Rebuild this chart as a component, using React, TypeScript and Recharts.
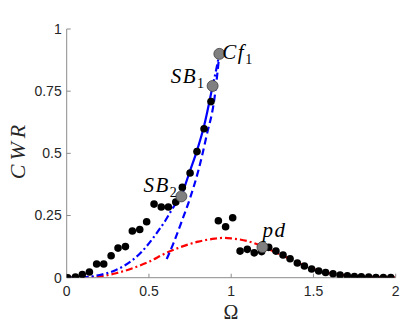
import React from 'react';
import { ComposedChart, Line, Scatter, XAxis, YAxis } from 'recharts';

// measured points (black dots)
const expOmega = [0.006, 0.053, 0.095, 0.138, 0.182, 0.225, 0.27, 0.312, 0.357, 0.399, 0.444, 0.486, 0.531, 0.575, 0.618, 0.663, 0.703, 0.75, 0.792, 0.835, 0.877, 0.922, 0.966, 1.009, 1.054, 1.098, 1.14, 1.185, 1.228, 1.272, 1.315, 1.358, 1.402, 1.445, 1.489, 1.532, 1.574, 1.619, 1.662, 1.706, 1.749, 1.791, 1.836, 1.88, 1.925, 1.97];
const expCwr = [0, 0.003, 0.013, 0.023, 0.055, 0.055, 0.088, 0.119, 0.125, 0.188, 0.194, 0.225, 0.296, 0.284, 0.284, 0.304, 0.363, 0.421, 0.507, 0.599, 0.708, 0.229, 0.205, 0.241, 0.107, 0.114, 0.1, 0.105, 0.122, 0.107, 0.091, 0.076, 0.059, 0.047, 0.035, 0.027, 0.021, 0.016, 0.011, 0.008, 0.005, 0.004, 0.003, 0.001, 0.001, 0.001];

// blue branch, lower part (dash-dot)
const lowOmega = [0, 0.1, 0.2, 0.3, 0.4, 0.45, 0.5, 0.55, 0.6, 0.65, 0.697];
const lowCwr = [0, 0.002, 0.011, 0.031, 0.071, 0.1, 0.138, 0.182, 0.23, 0.285, 0.327];

// blue branch, solid part
const midOmega = [0.697, 0.75, 0.79, 0.835, 0.887];
const midCwr = [0.327, 0.43, 0.507, 0.61, 0.771];

// blue branch, top part (dash-dot)
const topOmega = [0.887, 0.91, 0.928];
const topCwr = [0.771, 0.84, 0.9];

// blue unstable branch (dashed)
const unstOmega = [0.608, 0.65, 0.7, 0.75, 0.8, 0.85, 0.9, 0.928];
const unstCwr = [0.075, 0.14, 0.228, 0.32, 0.43, 0.57, 0.73, 0.9];

// red curve (dash-dot)
const redOmega = [0, 0.1, 0.2, 0.3, 0.4, 0.5, 0.6, 0.7, 0.8, 0.9, 0.95, 1.0, 1.1, 1.2, 1.3, 1.4, 1.5, 1.6, 1.7, 1.8, 1.9, 2.0];
const redCwr = [0, 0.001, 0.005, 0.018, 0.038, 0.064, 0.098, 0.125, 0.145, 0.157, 0.16, 0.158, 0.147, 0.123, 0.093, 0.062, 0.035, 0.018, 0.009, 0.004, 0.002, 0.001];

// special points
const markNames = ['Cf', 'SB', 'SB', 'pd'];
const markSubs = ['1', '1', '2', ''];
const markOmega = [0.928, 0.887, 0.697, 1.19];
const markCwr = [0.9, 0.771, 0.327, 0.123];

const xTicks = [0, 0.5, 1, 1.5, 2];
const yTicks = [0, 0.25, 0.5, 0.75, 1];

const toPoints = (xs: number[], ys: number[]) => xs.map((x, i) => ({ x, y: ys[i] }));

const mathFont = '"Liberation Serif", "Times New Roman", serif';
const tickStyle = { fill: '#262626', fontSize: 14, fontFamily: '"Liberation Sans", Arial, sans-serif' };
const axisColor = '#8c8c8c';

// where each label sits relative to its marker
const labelPos = [
  { dx: 3, dy: 5, anchor: 'start' },
  { dx: -7, dy: -3, anchor: 'end' },
  { dx: -3, dy: -4, anchor: 'end' },
  { dx: 0, dy: -10, anchor: 'start' },
];

const MarkShape = (props: any) => {
  const { cx, cy, payload } = props;
  const p = labelPos[payload.i];
  return (
    <g>
      <circle cx={cx} cy={cy} r={5.5} fill="#808080" stroke="#404040" strokeWidth={0.8} />
      <text
        x={cx + p.dx}
        y={cy + p.dy}
        textAnchor={p.anchor}
        fontFamily={mathFont}
        fontStyle="italic"
        fontSize={21}
        letterSpacing={1.5}
        fill="#000"
      >
        {payload.name}
        {payload.sub && (
          <tspan fontStyle="normal" fontSize={14} dy={5}>
            {payload.sub}
          </tspan>
        )}
      </text>
    </g>
  );
};

const Dot = (props: any) => <circle cx={props.cx} cy={props.cy} r={3.8} fill="#000" />;

export default function App() {
  const marks = markNames.map((name, i) => ({ x: markOmega[i], y: markCwr[i], name, sub: markSubs[i], i }));
  const dashDot = '7 3 2 3';
  return (
    <div style={{ position: 'absolute', left: 0, top: 0, background: '#fff' }}>
      <ComposedChart width={415} height={323} margin={{ top: 29, right: 19.3, bottom: 15.3, left: 16.7 }}>
        <XAxis
          xAxisId="b"
          dataKey="x"
          type="number"
          domain={[0, 2]}
          ticks={xTicks}
          allowDataOverflow
          height={30}
          tickSize={-4}
          tickMargin={12}
          stroke={axisColor}
          tick={tickStyle}
          label={{
            content: () => (
              <text x={231} y={319} textAnchor="middle" fontFamily={mathFont} fontSize={20} fill="#262626">
                Ω
              </text>
            ),
          }}
        />
        <XAxis
          xAxisId="t"
          orientation="top"
          type="number"
          domain={[0, 2]}
          ticks={xTicks}
          allowDataOverflow
          height={0}
          tickSize={-4}
          stroke={axisColor}
          tickFormatter={() => ''}
        />
        <YAxis
          yAxisId="l"
          type="number"
          domain={[0, 1]}
          ticks={yTicks}
          allowDataOverflow
          width={50}
          tickSize={-4}
          tickMargin={9}
          stroke={axisColor}
          tick={tickStyle}
          label={{
            content: () => (
              <text
                x={25}
                y={150}
                transform="rotate(-90 25 150)"
                textAnchor="middle"
                fontFamily={mathFont}
                fontStyle="italic"
                fontSize={22}
                letterSpacing={4}
                fill="#262626"
              >
                CWR
              </text>
            ),
          }}
        />
        <YAxis
          yAxisId="r"
          orientation="right"
          type="number"
          domain={[0, 1]}
          ticks={yTicks}
          allowDataOverflow
          width={0}
          tickSize={-4}
          stroke={axisColor}
          tickFormatter={() => ''}
        />
        <Line xAxisId="b" yAxisId="l" data={toPoints(redOmega, redCwr)} dataKey="y" type="monotone" stroke="#ff0000" strokeWidth={2.2} strokeDasharray={dashDot} dot={false} activeDot={false} isAnimationActive={false} />
        <Line xAxisId="b" yAxisId="l" data={toPoints(lowOmega, lowCwr)} dataKey="y" type="monotone" stroke="#0000ff" strokeWidth={2.2} strokeDasharray={dashDot} dot={false} activeDot={false} isAnimationActive={false} />
        <Line xAxisId="b" yAxisId="l" data={toPoints(midOmega, midCwr)} dataKey="y" type="monotone" stroke="#0000ff" strokeWidth={2.2} dot={false} activeDot={false} isAnimationActive={false} />
        <Line xAxisId="b" yAxisId="l" data={toPoints(topOmega, topCwr)} dataKey="y" type="monotone" stroke="#0000ff" strokeWidth={2.2} strokeDasharray={dashDot} dot={false} activeDot={false} isAnimationActive={false} />
        <Line xAxisId="b" yAxisId="l" data={toPoints(unstOmega, unstCwr)} dataKey="y" type="monotone" stroke="#0000ff" strokeWidth={2.2} strokeDasharray="7 4" dot={false} activeDot={false} isAnimationActive={false} />
        <Scatter xAxisId="b" yAxisId="l" data={toPoints(expOmega, expCwr)} dataKey="y" shape={<Dot />} isAnimationActive={false} />
        <Scatter xAxisId="b" yAxisId="l" data={marks} dataKey="y" shape={<MarkShape />} isAnimationActive={false} />
      </ComposedChart>
    </div>
  );
}
